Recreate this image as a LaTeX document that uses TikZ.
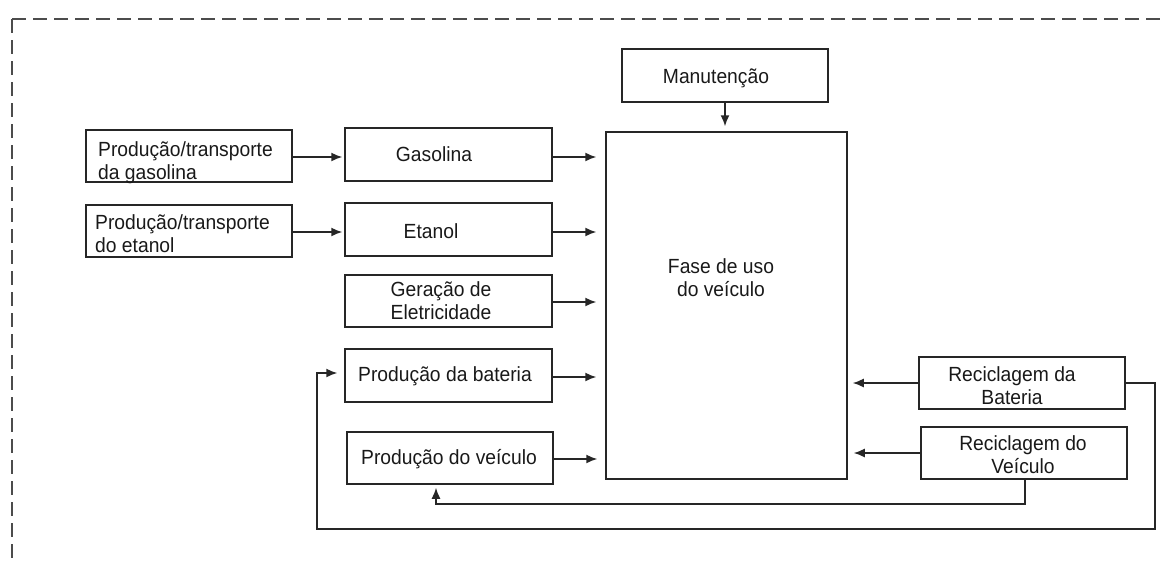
\documentclass[tikz,border=0pt]{standalone}
\usepackage{fontspec}
\setmainfont{Liberation Sans}[FakeStretch=0.94]
\usetikzlibrary{arrows.meta}
\begin{document}
\begin{tikzpicture}[x=1pt,y=-1pt,
  box/.style={draw=black!85, line width=1.5pt, rectangle, inner sep=0pt},
  txt/.style={inner sep=0pt, font=\fontsize{20.5}{23}\selectfont, text=black!90},
  arr/.style={draw=black!85, line width=1.5pt, -{Latex[length=11pt,width=9pt]}},
  frame/.style={draw=black!70, line width=1.5pt, dash pattern=on 14pt off 7pt}]
\useasboundingbox (0,0) rectangle (1162,560);
% dashed frame
\coordinate (fc) at (12,19);
\coordinate (fb) at (12,562);
\coordinate (fr) at (1164,19);
\draw[frame] (fc) -- (fb);
\draw[frame] (fc) -- (fr);
% boxes
\node[box, minimum width=206pt, minimum height=53pt] (man) at (725,75.5) {};
\node[box, minimum width=206pt, minimum height=52pt] (pg) at (189,156) {};
\node[box, minimum width=207pt, minimum height=53pt] (gas) at (448.5,154.5) {};
\node[box, minimum width=206pt, minimum height=52pt] (pe) at (189,231) {};
\node[box, minimum width=207pt, minimum height=53pt] (eta) at (448.5,229.5) {};
\node[box, minimum width=207pt, minimum height=52pt] (ger) at (448.5,301) {};
\node[box, minimum width=207pt, minimum height=53pt] (bat) at (448.5,375.5) {};
\node[box, minimum width=206pt, minimum height=52pt] (vei) at (450,458) {};
\node[box, minimum width=241pt, minimum height=347pt] (fase) at (726.5,305.5) {};
\node[box, minimum width=206pt, minimum height=52pt] (rb) at (1022,383) {};
\node[box, minimum width=206pt, minimum height=52pt] (rv) at (1024,453) {};
% texts
\node[txt, anchor=base] (tman) at (716,83) {Manutenção};
\node[txt, anchor=base west, align=left] (tpg) at (98,179) {Produção/transporte\\da gasolina};
\node[txt, anchor=base west, align=left] (tpe) at (95,252) {Produção/transporte\\do etanol};
\node[txt, anchor=base] (tgas) at (434,161) {Gasolina};
\node[txt, anchor=base] (teta) at (431,238) {Etanol};
\node[txt, anchor=base, align=center] (tger) at (441,319) {Geração de\\Eletricidade};
\node[txt, anchor=base] (tbat) at (445,381) {Produção da bateria};
\node[txt, anchor=base] (tvei) at (449,464) {Produção do veículo};
\node[txt, anchor=base, align=center] (tfase) at (721,296) {Fase de uso\\do veículo};
\node[txt, anchor=base, align=center] (trb) at (1012,404) {Reciclagem da\\Bateria};
\node[txt, anchor=base, align=center] (trv) at (1023,473) {Reciclagem do\\Veículo};
% connectors
\draw[arr, shorten >=5pt] (man.south) -- (man.south |- fase.north);
\draw[arr, shorten >=2pt] ([yshift=-1pt]pg.east) -- ([yshift=-1pt]pg.east -| gas.west);
\draw[arr, shorten >=2pt] ([yshift=-1pt]pe.east) -- ([yshift=-1pt]pe.east -| eta.west);
\draw[arr, shorten >=9pt] ([yshift=-2.5pt]gas.east) -- ([yshift=-2.5pt]gas.east -| fase.west);
\draw[arr, shorten >=9pt] ([yshift=-2.5pt]eta.east) -- ([yshift=-2.5pt]eta.east -| fase.west);
\draw[arr, shorten >=9pt] ([yshift=-1pt]ger.east) -- ([yshift=-1pt]ger.east -| fase.west);
\draw[arr, shorten >=9pt] ([yshift=-1.5pt]bat.east) -- ([yshift=-1.5pt]bat.east -| fase.west);
\draw[arr, shorten >=8pt] ([yshift=-1pt]vei.east) -- ([yshift=-1pt]vei.east -| fase.west);
\draw[arr, shorten >=5pt] (rb.west) -- (rb.west -| fase.east);
\draw[arr, shorten >=6pt] (rv.west) -- (rv.west -| fase.east);
% feedback loops
\coordinate (v1) at (1025,504);
\coordinate (b1) at (1155,529);
\coordinate (b2) at (317,373);
\draw[arr, shorten >=3pt] ([xshift=1pt]rv.south) -- ([xshift=1pt]rv.south |- v1) -| ([xshift=-14pt]vei.south);
\draw[arr, shorten >=7pt] (rb.east) -| (b1) -| (b2) -- (b2 -| bat.west);
\end{tikzpicture}
\end{document}
